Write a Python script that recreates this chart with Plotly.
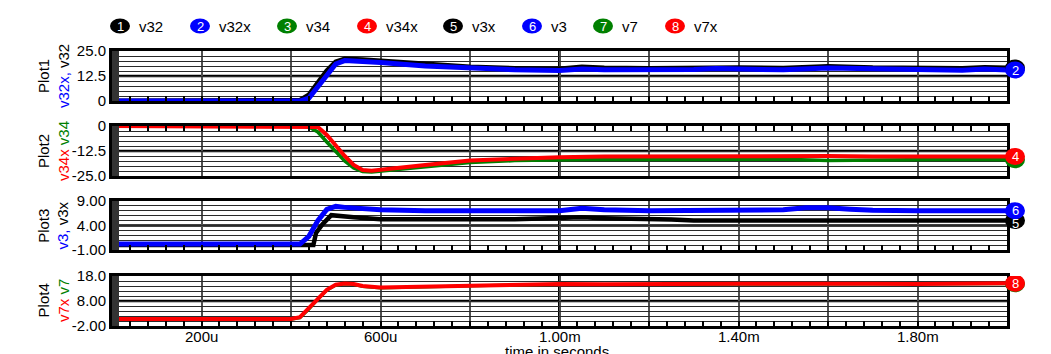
import plotly.graph_objects as go

# ---------------- data (time in microseconds, values in volts) ----------------
t_v32 = [0, 420, 440, 460, 480, 500, 520, 560, 600, 700, 800, 900, 1000, 1050, 1100, 1200,
         1300, 1350, 1400, 1500, 1600, 1700, 1800, 1900, 1950, 2000]
v32 = [0, 0.3, 3, 9, 15, 19.5, 21, 20.6, 20, 18.5, 17, 16.3, 16, 17, 16.5, 16.2,
       16.5, 17, 16.6, 16.4, 17.3, 16.6, 16.5, 16.2, 16.8, 16.5]
v32x = [0, 0, 1.5, 7.5, 13.5, 18.5, 20.2, 19.8, 19.2, 17.5, 16.3, 15.6, 15.3, 16, 15.6, 15.4,
        15.7, 16.2, 15.8, 15.6, 16.5, 15.8, 15.7, 15.4, 16, 15.5]

t_v34 = [0, 420, 440, 460, 480, 500, 520, 540, 560, 580, 600, 700, 800, 900, 1000, 1100,
         1200, 1300, 1400, 1500, 1600, 1700, 1800, 1900, 2000]
v34 = [0, 0, -0.5, -3, -8, -13, -17.5, -21, -22.8, -23, -22.6, -20.5, -18.3, -17.3, -16.8,
       -16.6, -16.8, -16.6, -16.7, -16.6, -17.3, -17, -16.7, -16.6, -16.9]
v34x = [0, 0, 0, -0.5, -4.5, -10, -15, -19.5, -22, -22.4, -22, -19.5, -17.2, -16.2, -15.6,
        -15.3, -15.2, -15.3, -15.2, -15.4, -15.0, -15.3, -15.2, -15.4, -15.2]

t_v3 = [0, 420, 440, 460, 480, 500, 520, 560, 600, 700, 800, 900, 1000, 1050, 1100, 1200,
        1300, 1400, 1500, 1550, 1600, 1650, 1700, 1800, 1900, 2000]
v3 = [0.2, 0.2, 1.8, 5.0, 7.3, 7.9, 7.7, 7.4, 7.2, 7.0, 7.0, 6.9, 7.0, 7.5, 7.2, 7.0,
      7.1, 7.0, 7.2, 7.6, 7.6, 7.3, 7.1, 7.0, 6.9, 7.0]
t_v3x = [0, 450, 456, 470, 490, 510, 540, 600, 700, 800, 900, 1000, 1050, 1100, 1200, 1250,
         1300, 1400, 1500, 1600, 1700, 1800, 1900, 2000]
v3x = [0, 0, 2.5, 4.2, 6.1, 6.0, 5.7, 5.3, 5.2, 5.3, 5.3, 5.5, 5.7, 5.5, 5.4, 5.2,
       5.0, 5.0, 5.0, 5.0, 5.0, 5.0, 5.0, 5.0]

t_v7 = [0, 400, 420, 440, 460, 480, 500, 520, 540, 560, 600, 650, 700, 800, 900, 1000, 1100,
        1200, 1300, 1400, 1500, 1600, 1700, 1800, 1900, 2000]
v7 = [0.7, 0.7, 1.3, 4.7, 8.7, 12.3, 14.3, 14.8, 14.6, 13.8, 13.2, 13.4, 13.8, 14.1, 14.4,
      14.6, 14.5, 14.7, 14.6, 14.7, 14.7, 14.9, 14.7, 14.6, 14.8, 14.9]
v7x = [0.8, 0.8, 1.5, 5, 9, 12.5, 14.5, 15, 14.8, 14, 13.4, 13.6, 14, 14.3, 14.6,
       14.8, 14.7, 14.9, 14.8, 14.9, 14.9, 15.1, 14.9, 14.8, 15, 15.1]

series_names = ["v32", "v32x", "v34", "v34x", "v3x", "v3", "v7", "v7x"]
series_colors = ["#000000", "#0000ff", "#008000", "#ff0000", "#000000", "#0000ff", "#008000", "#ff0000"]

x_tick_vals_us = [0, 200, 400, 600, 800, 1000, 1200, 1400, 1600, 1800, 2000]
x_label_vals_us = [200, 600, 1000, 1400, 1800]
x_label_text = ["200u", "600u", "1.00m", "1.40m", "1.80m"]

y_ranges = [[0, 25], [-25, 0], [-1, 9], [-2, 18]]
y_label_vals = [[25, 12.5, 0], [0, -12.5, -25], [9, 4, -1], [18, 8, -2]]
y_label_text = [["25.0", "12.5", "0"], ["0", "-12.5", "-25.0"], ["9.00", "4.00", "-1.00"],
                ["18.0", "8.00", "-2.00"]]
y_grid_step = [2.5, 2.5, 1, 2]
y_titles = ["Plot1<br><span style='color:#0000ff'>v32x,</span> v32",
            "Plot2<br><span style='color:#ff0000'>v34x</span> <span style='color:#008000'>v34</span>",
            "Plot3<br><span style='color:#0000ff'>v3,</span> v3x",
            "Plot4<br><span style='color:#ff0000'>v7x</span> <span style='color:#008000'>v7</span>"]

# ---------------- layout geometry ----------------
W, H = 1051, 354
L, R, T, B = 112, 44, 51, 28
plot_w = W - L - R
plot_h = H - T - B
panel_px = [(51, 101), (126, 176), (201, 250), (276, 326)]


def py2paper(py):
    return (H - B - py) / plot_h


def px2paper(px):
    return (px - L) / plot_w


FONT = "Liberation Sans, Arial, sans-serif"
us = 1e-6

fig = go.Figure()

# (series index, t, values, panel, width)
traces = [
    (0, t_v32, v32, 1, 5),
    (1, t_v32, v32x, 1, 5),
    (2, t_v34, v34, 2, 3.5),
    (3, t_v34, v34x, 2, 4),
    (4, t_v3x, v3x, 3, 4.5),
    (5, t_v3, v3, 3, 5),
    (6, t_v7, v7, 4, 3),
    (7, t_v7, v7x, 4, 4),
]

for idx, tt, vv, p, lw in traces:
    xa = "x" if p == 1 else f"x{p}"
    ya = "y" if p == 1 else f"y{p}"
    fig.add_trace(go.Scatter(x=[v * us for v in tt], y=vv, mode="lines",
                             line=dict(color=series_colors[idx], width=lw, shape="linear"),
                             xaxis=xa, yaxis=ya, showlegend=False, hoverinfo="skip"))

layout = dict(width=W, height=H, margin=dict(l=L, r=R, t=T, b=B),
              paper_bgcolor="white", plot_bgcolor="white",
              font=dict(family=FONT, size=15, color="black"),
              showlegend=False)

shapes = []
annotations = []

for i, (top, bot) in enumerate(panel_px):
    p = i + 1
    xkey = "xaxis" if p == 1 else f"xaxis{p}"
    ykey = "yaxis" if p == 1 else f"yaxis{p}"
    xa = "x" if p == 1 else f"x{p}"
    ya = "y" if p == 1 else f"y{p}"
    lo, hi = y_ranges[i]
    step = y_grid_step[i]
    n = int(round((hi - lo) / step))
    gvals = [lo + k * step for k in range(n + 1)]
    gtext = []
    for g in gvals:
        lab = ""
        for lv, lt in zip(y_label_vals[i], y_label_text[i]):
            if abs(lv - g) < 1e-9:
                lab = lt
        gtext.append(lab)
    layout[ykey] = dict(domain=[py2paper(bot), py2paper(top)], range=[lo, hi], anchor=xa,
                        tickmode="array", tickvals=gvals, ticktext=gtext,
                        showgrid=True, gridcolor="#2a2a2a", gridwidth=1, zeroline=False,
                        showline=True, linecolor="black", linewidth=3, mirror=True,
                        ticks="", tickfont=dict(size=15, family=FONT, color="black"),
                        fixedrange=True)
    layout[xkey] = dict(domain=[0, 1], range=[0, 2000 * us], anchor=ya,
                        tickmode="array", tickvals=[v * us for v in x_tick_vals_us],
                        showticklabels=False, side="top" if p == 2 else "bottom",
                        showgrid=True, gridcolor="#505050", gridwidth=2, zeroline=False,
                        showline=True, linecolor="black", linewidth=3, mirror=True,
                        ticks="inside", ticklen=5, tickwidth=1.5, tickcolor="black",
                        minor=dict(ticks="inside", ticklen=5, tickwidth=1.5, tickcolor="black",
                                   tick0=0, dtick=40 * us, showgrid=False),
                        fixedrange=True)
    if p != 1:
        layout[xkey]["matches"] = "x"
    # thick middle horizontal line
    mid = y_label_vals[i][1]
    shapes.append(dict(type="line", xref="paper", x0=0, x1=1, yref=ya, y0=mid, y1=mid,
                       line=dict(color="black", width=2.5), layer="below"))
    # thick vertical line at 1.00m
    shapes.append(dict(type="line", xref=xa, x0=1000 * us, x1=1000 * us, yref="paper",
                       y0=py2paper(bot), y1=py2paper(top),
                       line=dict(color="black", width=3), layer="below"))
    # dark band along left edge
    shapes.append(dict(type="rect", xref="paper", x0=0, x1=px2paper(L + 7),
                       yref="paper", y0=py2paper(bot), y1=py2paper(top),
                       fillcolor="#333333", line=dict(width=0), layer="above"))
    # y title
    annotations.append(dict(text=y_titles[i], xref="paper", x=0, xshift=-59, xanchor="center",
                            yref="paper", y=py2paper((top + bot) / 2), yanchor="middle",
                            textangle=-90, showarrow=False, font=dict(size=15, family=FONT, color="black")))

# numbered end markers just right of each panel, at the series' last value
marker_cx = W - R + 8
end_px = {}
for idx, tt, vv, p, lw in traces:
    top, bot = panel_px[p - 1]
    lo, hi = y_ranges[p - 1]
    end_px[idx] = top + (hi - vv[-1]) / (hi - lo) * (bot - top)

for idx, tt, vv, p, lw in traces:
    ya = "y" if p == 1 else f"y{p}"
    shapes.append(dict(type="circle", xref="paper", x0=px2paper(marker_cx - 10), x1=px2paper(marker_cx + 10),
                       yref=ya, ysizemode="pixel", yanchor=vv[-1], y0=-8.5, y1=8.5,
                       fillcolor=series_colors[idx], line=dict(width=0), layer="above"))
    # number only where the marker is not covered by the next series' marker
    nxt = idx + 1
    covered = nxt in end_px and traces[nxt][3] == p and abs(end_px[nxt] - end_px[idx]) < 7
    if covered:
        continue
    dy = 0
    if nxt in end_px and traces[nxt][3] == p:
        dy = 3 if end_px[idx] > end_px[nxt] else -3
    annotations.append(dict(text=str(idx + 1), xref="paper", x=px2paper(marker_cx), xanchor="center",
                            yref=ya, y=vv[-1], yanchor="middle", yshift=-dy, showarrow=False,
                            font=dict(size=13, family=FONT, color="white")))

# x tick labels under the bottom panel
for v, txt in zip(x_label_vals_us, x_label_text):
    annotations.append(dict(text=txt, xref="x4", x=v * us, xanchor="center",
                            yref="paper", y=0, yshift=-10, yanchor="middle", showarrow=False,
                            font=dict(size=15, family=FONT, color="black")))

# top legend (numbered ellipses + names)
legend_circle_px = [120, 200, 287, 367, 453, 532, 603, 675]
legend_y_px = 26
for k, name in enumerate(series_names):
    cx = px2paper(legend_circle_px[k])
    cy = py2paper(legend_y_px)
    shapes.append(dict(type="circle", xref="paper", yref="paper",
                       x0=px2paper(legend_circle_px[k] - 10), x1=px2paper(legend_circle_px[k] + 10),
                       y0=py2paper(legend_y_px + 7.5), y1=py2paper(legend_y_px - 7.5),
                       fillcolor=series_colors[k], line=dict(width=0)))
    annotations.append(dict(text=str(k + 1), xref="paper", yref="paper", x=cx, y=cy,
                            xanchor="center", yanchor="middle", showarrow=False,
                            font=dict(size=13, family=FONT, color="white")))
    annotations.append(dict(text=name, xref="paper", yref="paper", x=cx, xshift=17, y=cy,
                            xanchor="left", yanchor="middle", showarrow=False,
                            font=dict(size=15, family=FONT, color="black")))

# x axis title
annotations.append(dict(text="time in seconds", xref="paper", x=px2paper(557), xanchor="center",
                        yref="paper", y=0, yshift=-25, yanchor="middle", showarrow=False,
                        font=dict(size=15, family=FONT, color="black")))

layout["shapes"] = shapes
layout["annotations"] = annotations
fig.update_layout(**layout)

fig.write_html("out.html", config={"displayModeBar": False})
